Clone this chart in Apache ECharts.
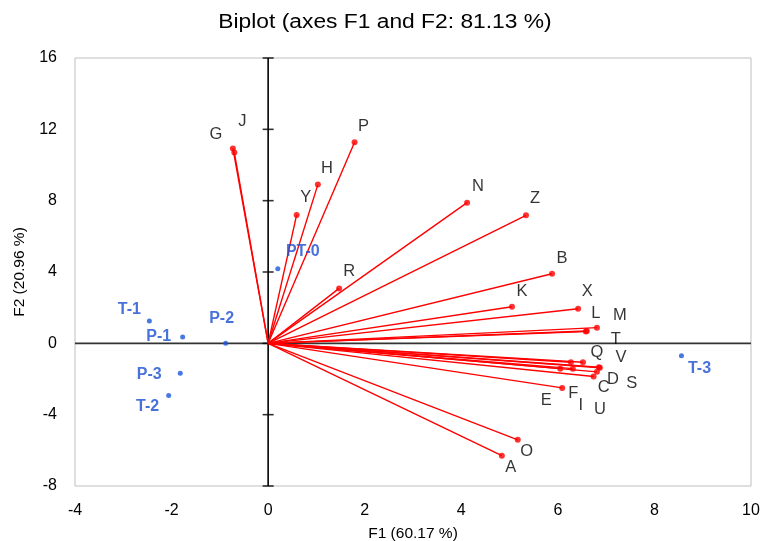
<!DOCTYPE html>
<html><head><meta charset="utf-8">
<script src="https://cdn.jsdelivr.net/npm/echarts@6/dist/echarts.min.js"></script>
<style>html,body{margin:0;padding:0;background:#fff}#c{width:766px;height:541px}</style>
</head><body><div id="c"></div>
<script>
// Variables (red vectors)
const varNames = ['G','J','P','H','Y','R','N','Z','B','K','X','L','M','T','Q','V','S','D','C','U','I','F','E','O','A'];
const varF1 = [-0.73,-0.70,1.79,1.03,0.59,1.47,4.12,5.34,5.88,5.05,6.42,6.60,6.81,6.58,6.52,6.85,6.87,6.81,6.74,6.27,6.31,6.05,6.09,5.17,4.84];
const varF2 = [10.93,10.70,11.28,8.90,7.20,3.08,7.89,7.18,3.90,2.05,1.94,0.69,0.88,0.66,-1.06,-1.34,-1.37,-1.60,-1.86,-1.06,-1.42,-1.42,-2.50,-5.41,-6.30];
// Observations (blue points)
const obsNames = ['T-1','P-1','P-2','P-3','T-2','PT-0','T-3'];
const obsF1 = [-2.46,-1.77,-0.88,-1.82,-2.06,0.20,8.56];
const obsF2 = [1.25,0.35,0.00,-1.68,-2.93,4.18,-0.69];
// Axis ticks
const xTicks = [-4,-2,0,2,4,6,8,10];
const yTicks = [-8,-4,0,4,8,12,16];

// label pixel offsets (style)
const varLabelOffsets = [[-17,-14],[8,-31],[9,-16],[9,-16],[9,-17],[10,-17],[11,-16],[9,-17],[10,-15],[10,-15],[9,-17],[9,-18],[23,-12],[30,8],[14,-10],[22,-10],[32,16],[16,8],[10,11],[29,47],[8,37],[13,25],[-16,13],[9,12],[9,12]];
const obsLabelOffsets = [[-20,-11],[-24,0],[-4,-25],[-31,1],[-21,11],[25,-17],[18,13]];

const FONT = '"Liberation Sans", Arial, sans-serif';
const chart = echarts.init(document.getElementById('c'));
chart.setOption({
  animation:false,
  textStyle:{fontFamily:FONT},
  graphic:[{type:'text',x:385,y:22,scaleX:1.14,style:{text:'Biplot (axes F1 and F2: 81.13 %)',font:'20px '+FONT,fill:'#000',textAlign:'center',textVerticalAlign:'middle'}}],
  grid:{left:75,right:15,top:58,bottom:55,show:true,borderColor:'#BFBFBF',borderWidth:1,outerBoundsMode:'none',containLabel:false},
  xAxis:{type:'value',min:-4,max:10,interval:2,
    axisLine:{show:false},axisTick:{show:false},splitLine:{show:false},
    axisLabel:{color:'#000',fontSize:16,margin:17,fontFamily:FONT,formatter:v=>xTicks.includes(v)?String(v):''},
    name:'F1 (60.17 %)',nameLocation:'middle',nameGap:40,nameTextStyle:{color:'#000',fontSize:15.5,fontFamily:FONT}},
  yAxis:{type:'value',min:-8,max:16,interval:4,
    axisLine:{show:false},axisTick:{show:false},splitLine:{show:false},
    axisLabel:{color:'#000',fontSize:16,margin:18,fontFamily:FONT,formatter:v=>yTicks.includes(v)?String(v):''},
    name:'F2 (20.96 %)',nameLocation:'middle',nameGap:47,nameRotate:90,nameTextStyle:{color:'#000',fontSize:15.5,fontFamily:FONT}},
  series:[
    {type:'line',data:[[xTicks[0],0],[xTicks[xTicks.length-1],0]],symbol:'none',lineStyle:{color:'#333',width:1.8},z:1,silent:true},
    {type:'line',data:[[0,yTicks[0]],[0,yTicks[yTicks.length-1]]],symbol:'none',lineStyle:{color:'#000',width:1.6},z:1,silent:true},
    {type:'scatter',data:yTicks.map(v=>[0,v]),symbol:'rect',symbolSize:[11,1.6],itemStyle:{color:'#000'},z:1,silent:true},
    {type:'lines',coordinateSystem:'cartesian2d',polyline:false,
      data:varNames.map((n,i)=>({coords:[[0,0],[varF1[i],varF2[i]]]})),
      lineStyle:{color:'#FF0000',width:1.4,opacity:1},z:2,silent:true},
    {type:'scatter',symbol:'circle',symbolSize:6,itemStyle:{color:'#FF0000'},z:3,
      data:varNames.map((n,i)=>({value:[varF1[i],varF2[i]],name:n,
        label:{show:true,position:'inside',offset:varLabelOffsets[i],formatter:n,color:'#000',fontSize:16.5,fontFamily:FONT}}))},
    {type:'scatter',symbol:'circle',symbolSize:5,itemStyle:{color:'#1A56DB'},z:4,
      data:obsNames.map((n,i)=>({value:[obsF1[i],obsF2[i]],name:n,
        label:{show:true,position:'inside',offset:obsLabelOffsets[i],formatter:n,color:'#1A4FCF',fontSize:16,fontWeight:'bold',fontFamily:FONT}}))}
  ]
});
</script></body></html>
